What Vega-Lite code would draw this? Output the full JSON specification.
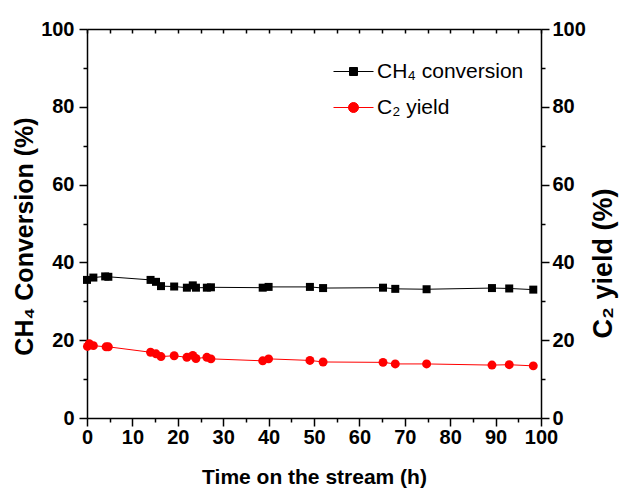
{
  "$schema": "https://vega.github.io/schema/vega-lite/v6.json",
  "width": 454,
  "height": 389,
  "autosize": "none",
  "padding": {"left": 87, "top": 29, "right": 79, "bottom": 75},
  "background": "white",
  "config": {
    "view": {"stroke": null},
    "font": "'Liberation Sans', Arial, sans-serif",
    "axis": {
      "grid": false,
      "domainColor": "black",
      "domainWidth": 1.5,
      "tickColor": "black",
      "tickWidth": 1.5,
      "labelColor": "black",
      "labelFontSize": 20,
      "labelFontWeight": "bold",
      "titleColor": "black",
      "titleFontWeight": "bold"
    }
  },
  "datasets": {
    "ch4": [
      {"time": 0.0, "value": 35.5, "series": "CH4"},
      {"time": 1.4, "value": 36.1, "series": "CH4"},
      {"time": 4.0, "value": 36.4, "series": "CH4"},
      {"time": 4.7, "value": 36.3, "series": "CH4"},
      {"time": 14.0, "value": 35.5, "series": "CH4"},
      {"time": 15.2, "value": 35.0, "series": "CH4"},
      {"time": 16.3, "value": 33.9, "series": "CH4"},
      {"time": 19.2, "value": 33.8, "series": "CH4"},
      {"time": 22.0, "value": 33.5, "series": "CH4"},
      {"time": 23.3, "value": 34.1, "series": "CH4"},
      {"time": 24.0, "value": 33.5, "series": "CH4"},
      {"time": 26.4, "value": 33.5, "series": "CH4"},
      {"time": 27.3, "value": 33.6, "series": "CH4"},
      {"time": 38.7, "value": 33.5, "series": "CH4"},
      {"time": 40.0, "value": 33.7, "series": "CH4"},
      {"time": 49.1, "value": 33.7, "series": "CH4"},
      {"time": 52.0, "value": 33.4, "series": "CH4"},
      {"time": 65.2, "value": 33.5, "series": "CH4"},
      {"time": 67.9, "value": 33.2, "series": "CH4"},
      {"time": 74.8, "value": 33.1, "series": "CH4"},
      {"time": 89.2, "value": 33.4, "series": "CH4"},
      {"time": 93.0, "value": 33.3, "series": "CH4"},
      {"time": 98.3, "value": 33.0, "series": "CH4"}
    ],
    "c2": [
      {"time": 0.1, "value": 18.4, "series": "C2"},
      {"time": 0.5, "value": 19.1, "series": "C2"},
      {"time": 1.4, "value": 18.6, "series": "C2"},
      {"time": 4.2, "value": 18.3, "series": "C2"},
      {"time": 4.7, "value": 18.3, "series": "C2"},
      {"time": 14.0, "value": 16.9, "series": "C2"},
      {"time": 15.2, "value": 16.5, "series": "C2"},
      {"time": 16.3, "value": 15.8, "series": "C2"},
      {"time": 19.2, "value": 16.0, "series": "C2"},
      {"time": 22.0, "value": 15.6, "series": "C2"},
      {"time": 23.3, "value": 16.1, "series": "C2"},
      {"time": 24.0, "value": 15.3, "series": "C2"},
      {"time": 26.4, "value": 15.6, "series": "C2"},
      {"time": 27.3, "value": 15.2, "series": "C2"},
      {"time": 38.7, "value": 14.7, "series": "C2"},
      {"time": 40.0, "value": 15.2, "series": "C2"},
      {"time": 49.1, "value": 14.8, "series": "C2"},
      {"time": 52.0, "value": 14.4, "series": "C2"},
      {"time": 65.2, "value": 14.3, "series": "C2"},
      {"time": 67.9, "value": 13.9, "series": "C2"},
      {"time": 74.8, "value": 13.9, "series": "C2"},
      {"time": 89.2, "value": 13.6, "series": "C2"},
      {"time": 93.0, "value": 13.7, "series": "C2"},
      {"time": 98.3, "value": 13.4, "series": "C2"}
    ]
  },
  "layer": [
    {
      "data": {"name": "ch4"},
      "encoding": {
        "x": {
          "field": "time", "type": "quantitative",
          "scale": {"domain": [0, 100], "nice": false},
          "axis": {
            "title": "Time on the stream (h)",
            "titleFontSize": 21,
            "titlePadding": 19,
            "values": [0,5,10,15,20,25,30,35,40,45,50,55,60,65,70,75,80,85,90,95,100],
            "labelExpr": "datum.value % 10 === 0 ? datum.label : ''",
            "tickSize": {"condition": {"test": "datum.value % 10 === 0", "value": 8}, "value": 4},
            "labelPadding": 1,
            "labelFlush": false
          }
        },
        "y": {
          "field": "value", "type": "quantitative",
          "scale": {"domain": [0, 100], "nice": false},
          "axis": {
            "title": "CH₄ Conversion (%)",
            "titleFontSize": 25,
            "titleAngle": 270,
            "titleX": -55,
            "titleY": 207,
            "titleAlign": "center",
            "titleBaseline": "alphabetic",
            "values": [0,10,20,30,40,50,60,70,80,90,100],
            "labelExpr": "datum.value % 20 === 0 ? datum.label : ''",
            "tickSize": {"condition": {"test": "datum.value % 20 === 0", "value": 8}, "value": 4},
            "labelPadding": 5
          }
        },
        "color": {
          "field": "series", "type": "nominal",
          "scale": {"domain": ["CH4", "C2"], "range": ["black", "#ff0000"]},
          "legend": {
            "title": null,
            "orient": "none",
            "legendX": 256,
            "legendY": 32,
            "padding": 0,
            "symbolSize": 400,
            "labelOffset": 13,
            "rowPadding": 14,
            "labelFontSize": 21,
            "labelLimit": 0,
            "labelColor": "black",
            "labelExpr": "datum.value === 'CH4' ? 'CH₄ conversion' : 'C₂ yield'",
            "encode": {
              "symbols": {
                "update": {
                  "shape": {"signal": "datum.value === 'CH4' ? 'M-2,0H2M-0.4,-0.4H0.4V0.4H-0.4Z' : 'M-2,0H2M0.5,0A0.5,0.5,0,1,1,-0.5,0A0.5,0.5,0,1,1,0.5,0Z'"},
                  "fill": {"signal": "datum.value === 'CH4' ? 'black' : '#ff0000'"},
                  "stroke": {"signal": "datum.value === 'CH4' ? 'black' : '#ff0000'"},
                  "strokeWidth": {"value": 1},
                  "opacity": {"value": 1}
                }
              }
            }
          }
        }
      },
      "layer": [
        {"mark": {"type": "line", "strokeWidth": 1}},
        {"mark": {"type": "point", "shape": "square", "filled": true, "size": 64, "opacity": 1}}
      ]
    },
    {
      "data": {"name": "c2"},
      "encoding": {
        "x": {
          "field": "time", "type": "quantitative",
          "scale": {"domain": [0, 100], "nice": false},
          "axis": {
            "orient": "top",
            "title": null,
            "labels": false,
            "values": [0,5,10,15,20,25,30,35,40,45,50,55,60,65,70,75,80,85,90,95,100],
            "tickSize": -4
          }
        },
        "y": {
          "field": "value", "type": "quantitative",
          "scale": {"domain": [0, 100], "nice": false},
          "axis": {
            "orient": "right",
            "title": "C₂ yield (%)",
            "titleFontSize": 27,
            "titleAngle": 270,
            "titleX": 70,
            "titleY": 234,
            "titleAlign": "center",
            "titleBaseline": "alphabetic",
            "values": [0,10,20,30,40,50,60,70,80,90,100],
            "labelExpr": "datum.value % 20 === 0 ? datum.label : ''",
            "tickSize": {"condition": {"test": "datum.value % 20 === 0", "value": 8}, "value": 4},
            "labelPadding": 3
          }
        },
        "color": {
          "field": "series", "type": "nominal",
          "scale": {"domain": ["CH4", "C2"], "range": ["black", "#ff0000"]}
        }
      },
      "layer": [
        {"mark": {"type": "line", "strokeWidth": 1}},
        {"mark": {"type": "point", "shape": "circle", "filled": true, "size": 80, "opacity": 1}}
      ]
    }
  ],
  "resolve": {"scale": {"y": "independent"}, "axis": {"x": "independent"}}
}
